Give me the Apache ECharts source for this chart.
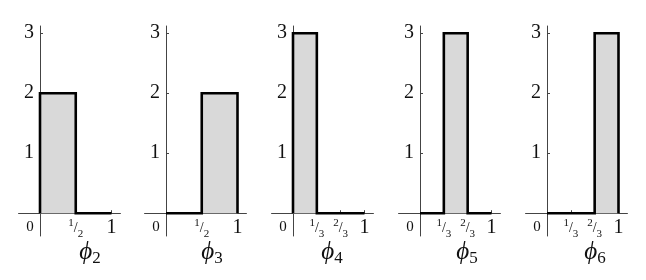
<!DOCTYPE html>
<html>
<head>
<meta charset="utf-8">
<script src="https://cdn.jsdelivr.net/npm/echarts@6/dist/echarts.min.js"></script>
<style>html,body{margin:0;padding:0;background:#fff}#c{width:646px;height:280px}</style>
</head>
<body>
<div id="c"></div>
<script>
// ---- data ----
const panelNames = ['2', '3', '4', '5', '6'];          // subscripts of phi
const supportStart = [0, 1/2, 0, 1/3, 2/3];
const supportEnd   = [1/2, 1, 1/3, 2/3, 1];
const heights      = [2, 2, 3, 3, 3];
const xTickValues  = [[1/2, 1], [1/2, 1], [1/3, 2/3, 1], [1/3, 2/3, 1], [1/3, 2/3, 1]];
const yTickValues  = [1, 2, 3];
const xTickText = {
  '0': '{z|0}',
  '0.5': '{n|1}{s|/}{d|2}',
  '0.333': '{n|1}{s|/}{d|3}',
  '0.667': '{n|2}{s|/}{d|3}',
  '1': '{one|1}'
};

// ---- layout ----
const axisX0 = [40, 166, 293, 420, 547];
const pxPerX = 71.5;
const xMin = -0.3, xMax = 1.125;
const yMin = -0.38, yMax = 3.12;
const gridTop = 26, gridH = 210;
const pxPerY = gridH / (yMax - yMin);
const labelCenters = [85, 207, 327, 462, 590];

const serif = '"Liberation Serif", "DejaVu Serif", serif';
const grids = [], xAxes = [], yAxes = [], series = [], titles = [];

for (let i = 0; i < panelNames.length; i++) {
  grids.push({
    left: axisX0[i] + xMin * pxPerX,
    width: (xMax - xMin) * pxPerX,
    top: gridTop, height: gridH
  });
  const labVals = [0].concat(xTickValues[i]);
  xAxes.push({
    type: 'value', gridIndex: i, min: xMin, max: xMax,
    position: 'bottom', offset: yMin * pxPerY,
    splitLine: {show: false},
    axisLine: {onZero: false, lineStyle: {color: '#444', width: 1}},
    axisTick: {show: true, customValues: xTickValues[i], length: 3, inside: true, lineStyle: {color: '#444'}},
    axisLabel: {
      show: true, customValues: labVals, margin: 4,
      formatter: v => xTickText[String(Math.round(v * 1000) / 1000)] || '',
      rich: {
        z: {fontFamily: serif, fontSize: 15, color: '#111', padding: [2, 20, 0, 0]},
        n: {fontFamily: serif, fontSize: 11, color: '#111', verticalAlign: 'top'},
        s: {fontFamily: serif, fontSize: 14, color: '#111', lineHeight: 22},
        d: {fontFamily: serif, fontSize: 11, color: '#111', verticalAlign: 'bottom'},
        one: {fontFamily: serif, fontSize: 20, color: '#111', lineHeight: 22}
      }
    }
  });
  yAxes.push({
    type: 'value', gridIndex: i, min: yMin, max: yMax,
    position: 'left', offset: xMin * pxPerX,
    splitLine: {show: false},
    axisLine: {onZero: false, lineStyle: {color: '#444', width: 1}},
    axisTick: {show: true, customValues: yTickValues, length: 3, inside: true, lineStyle: {color: '#444'}},
    axisLabel: {
      show: true, customValues: yTickValues, margin: 6,
      fontFamily: serif, fontSize: 20, color: '#111'
    }
  });
  const a = supportStart[i], b = supportEnd[i], h = heights[i];
  const pts = [[0, 0], [a, 0], [a, h], [b, h], [b, 0], [1, 0]];
  series.push({
    type: 'line', xAxisIndex: i, yAxisIndex: i, data: pts,
    showSymbol: false, symbol: 'none', animation: false,
    lineStyle: {color: '#000', width: 2.6, join: 'miter'},
    areaStyle: {color: '#d9d9d9', opacity: 1, origin: 0}
  });
  titles.push({
    text: '{p|ϕ}{s|' + panelNames[i] + '}',
    left: labelCenters[i], top: 232, textAlign: 'center',
    textStyle: {
      rich: {
        p: {fontFamily: serif, fontStyle: 'italic', fontWeight: 'normal', fontSize: 25, color: '#111', lineHeight: 30},
        s: {fontFamily: serif, fontWeight: 'normal', fontSize: 17, color: '#111', verticalAlign: 'bottom'}
      }
    }
  });
}

const chart = echarts.init(document.getElementById('c'), null, {renderer: 'canvas'});
chart.setOption({
  animation: false,
  backgroundColor: '#fff',
  title: titles,
  grid: grids, xAxis: xAxes, yAxis: yAxes, series: series
});
</script>
</body>
</html>
